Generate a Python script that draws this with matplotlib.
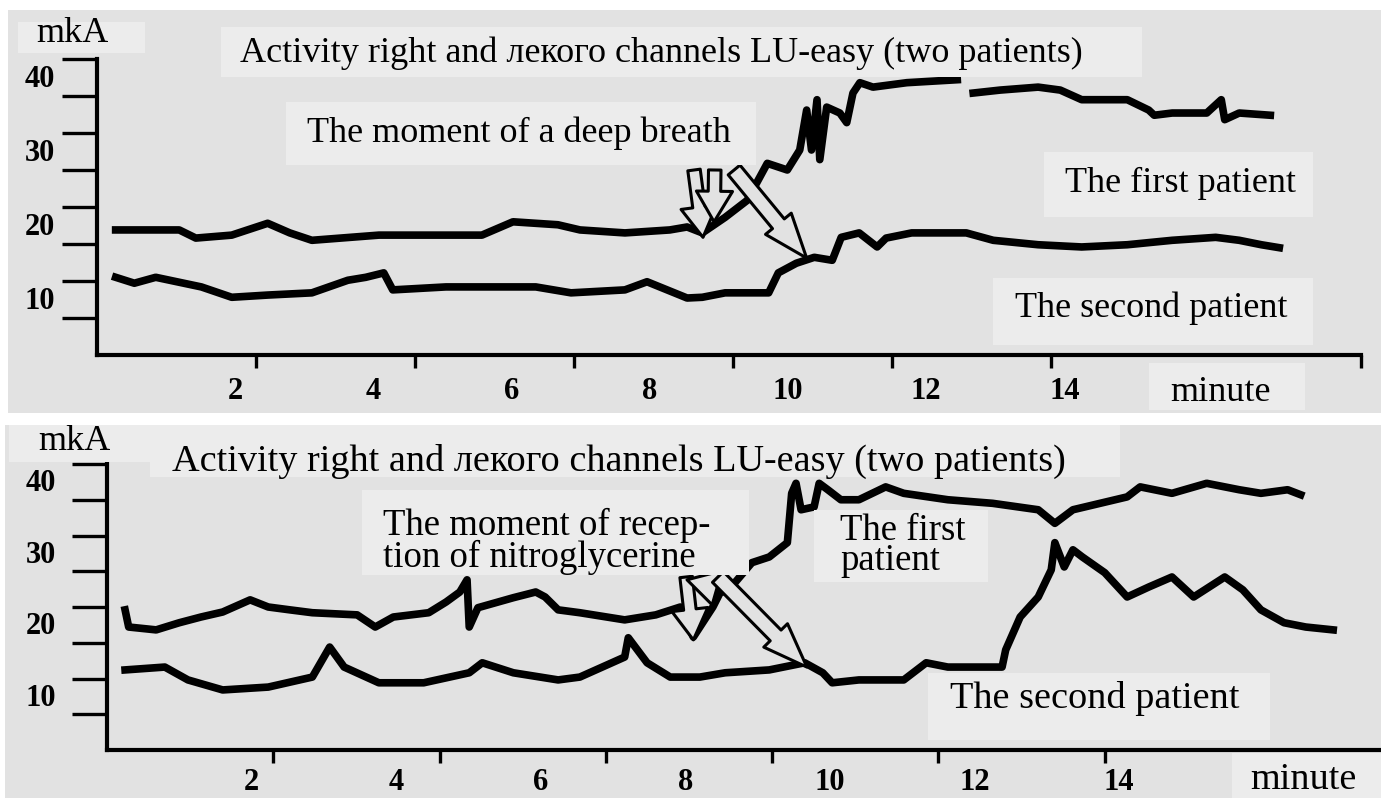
import matplotlib
matplotlib.use("Agg")
import matplotlib.pyplot as plt
import numpy as np
from matplotlib.patches import Rectangle

# ---- data (minutes, mkA); nan = break in the trace ----
nan = np.nan
top_t1 = [0.27, 1.19, 1.43, 1.95, 2.47, 2.79, 3.11, 4.08, 5.05, 5.57, 6.02, 6.67, 6.99,
          7.64, 8.29, 8.54, 8.76, 9.09, 9.41, 9.70, 9.99, 10.17, 10.27, 10.34, 10.42,
          10.46, 10.56, 10.75, 10.85, 10.94, 11.04, 11.23, 11.72, 12.45, 12.55, 12.68,
          13.07, 13.62, 13.94, 14.25, 14.91, 15.22, 15.30, 15.56, 16.06, 16.27, 16.32,
          16.53, 16.98]
top_p1 = [16.9, 16.9, 15.8, 16.2, 17.8, 16.5, 15.5, 16.2, 16.2, 16.2, 18.0, 17.6, 16.9,
          16.5, 16.9, 17.3, 16.5, 18.6, 20.9, 25.9, 25.0, 27.7, 33.1, 27.7, 34.5,
          26.4, 33.5, 32.7, 31.4, 35.4, 36.8, 36.2, 36.8, 37.2, nan, 35.4,
          35.8, 36.2, 35.8, 34.5, 34.5, 33.1, 32.4, 32.7, 32.7, 34.5, 31.8,
          32.7, 32.4]
top_t2 = [0.27, 0.54, 0.85, 1.51, 1.95, 2.47, 3.11, 3.63, 3.89, 4.15, 4.28, 5.05, 5.70,
          6.35, 6.86, 7.64, 7.96, 8.54, 8.76, 9.09, 9.72, 9.86, 10.12, 10.38, 10.64,
          10.77, 11.03, 11.29, 11.42, 11.79, 12.58, 12.97, 13.62, 14.25, 14.91, 15.56,
          16.19, 16.53, 16.85, 17.11]
top_p2 = [10.5, 9.7, 10.5, 9.2, 7.8, 8.1, 8.4, 10.1, 10.5, 11.1, 8.8, 9.2, 9.2,
          9.2, 8.4, 8.8, 9.9, 7.7, 7.8, 8.4, 8.4, 11.1, 12.4, 13.2, 12.8,
          15.9, 16.5, 14.6, 15.8, 16.5, 16.5, 15.5, 14.9, 14.6, 14.9, 15.5,
          15.9, 15.5, 14.9, 14.5]

bot_t1 = [0.25, 0.30, 0.68, 1.00, 1.30, 1.60, 1.98, 2.23, 2.53, 2.84, 3.46, 3.71, 3.96,
          4.45, 4.69, 4.88, 4.98, 5.01, 5.13, 5.62, 5.93, 6.06, 6.24, 6.54, 7.16, 7.59,
          7.93, 8.11, 8.38, 8.48, 8.60, 8.92, 9.16, 9.41, 9.47, 9.53, 9.60,
          9.78, 9.85, 9.97, 10.15, 10.40, 10.77, 11.02, 11.63, 12.25, 12.88, 13.11,
          13.36, 14.11, 14.29, 14.73, 15.21, 15.66, 15.96, 16.33, 16.51]
bot_p1 = [19.6, 17.2, 16.8, 17.8, 18.6, 19.3, 21.0, 20.0, 19.6, 19.2, 18.9, 17.2, 18.6,
          19.2, 20.7, 22.1, 23.8, 17.2, 19.9, 21.3, 22.1, 21.4, 19.6, 19.2, 18.2, 18.9,
          20.0, 15.8, 20.0, 22.0, 22.4, 26.2, 27.0, 29.0, 35.9, 37.3, 33.6,
          34.0, 37.3, 36.4, 35.0, 35.0, 36.8, 35.9, 35.0, 34.5, 33.6, 31.7,
          33.6, 35.4, 36.8, 35.9, 37.3, 36.4, 35.9, 36.4, 35.7]
bot_t2 = [0.25, 0.80, 1.12, 1.60, 2.23, 2.84, 3.08, 3.28, 3.76, 4.38, 5.01, 5.19, 5.62,
          6.24, 6.54, 7.16, 7.21, 7.47, 7.79, 8.20, 8.55, 9.16, 9.65, 9.90, 10.03, 10.40,
          11.02, 11.33, 11.63, 12.38, 12.43, 12.63, 12.88, 13.06, 13.11, 13.24, 13.36,
          13.49, 13.80, 14.11, 14.41, 14.73, 15.03, 15.46, 15.71, 15.96, 16.28, 16.58, 16.96]
bot_p2 = [11.2, 11.6, 9.8, 8.4, 8.8, 10.2, 14.4, 11.6, 9.4, 9.4, 10.8, 12.2, 10.8,
          9.8, 10.2, 13.0, 15.7, 12.2, 10.2, 10.2, 10.8, 11.2, 12.2, 10.8, 9.4, 9.8,
          9.8, 12.2, 11.6, 11.6, 14.0, 18.6, 21.4, 25.2, 29.0, 25.6, 28.0,
          27.0, 24.8, 21.4, 22.8, 24.2, 21.4, 24.2, 22.4, 19.6, 17.8, 17.2, 16.8]

# event arrows (minutes, mkA): tail -> tip
top_events = [((8.64, 25.0), (8.77, 15.9)), ((8.94, 25.0), (8.93, 18.0))]
top_diag = ((9.22, 25.0), (10.27, 13.1))
bot_events = [((8.01, 24.2), (8.11, 15.4)), ((8.27, 24.2), (8.37, 20.3))]
bot_diag = ((8.45, 24.2), (9.68, 11.6))

x_labels = [2, 4, 6, 8, 10, 12, 14]
y_labels = [10, 20, 30, 40]
title = "Activity right and лекого channels LU-easy (two patients)"

W, H = 1381, 798
PANEL = "#e2e2e2"
BOX = "#ececec"
SERIF = "Liberation Serif"


def fx(px):
    return px / W


def fy(py):
    return 1 - py / H


fig = plt.figure(figsize=(W / 100, H / 100), dpi=100, facecolor="white")


def box(x0, y0, x1, y1, color=BOX, z=2):
    r = Rectangle((fx(x0), fy(y1)), (x1 - x0) / W, (y1 - y0) / H,
                  transform=fig.transFigure, facecolor=color, edgecolor="none", zorder=z)
    fig.add_artist(r)
    return r


def label(px, py, s, size=26, **kw):
    fig.text(fx(px), fy(py), s, fontsize=size, family=SERIF, ha="left", va="center",
             zorder=3, **kw)


def panel(rect, x0, scale, t1, p1, t2, p2, events, diag, lbl_pad, x_pad):
    left, right, top, bottom = rect
    ax = fig.add_axes([fx(left), fy(bottom), (right - left) / W, (bottom - top) / H])
    ax.set_facecolor("none")
    ax.set_xlim(0, (right - x0) / scale)
    ax.set_ylim(0, 40)
    for s in ("top", "right"):
        ax.spines[s].set_visible(False)
    for s in ("left", "bottom"):
        ax.spines[s].set_linewidth(3)
    ax.plot(t1, p1, color="black", lw=5.5)
    ax.plot(t2, p2, color="black", lw=5.5)

    # long tick marks every 5 mkA, labels drawn a little below them as in the scan
    ax.set_yticks(np.arange(5, 45, 5))
    ax.set_yticklabels([])
    ax.tick_params(axis="y", which="major", length=25, width=2.4)
    ax.set_yticks([v - 2.3 for v in y_labels], labels=[str(v) for v in y_labels], minor=True)
    ax.tick_params(axis="y", which="minor", length=0, pad=lbl_pad)

    ax.set_xticks(x_labels, labels=[str(v) for v in x_labels])
    ax.tick_params(axis="x", which="major", length=0, pad=x_pad)
    ax.set_xticks(np.arange(2.3, 14, 2.3), minor=True)
    ax.tick_params(axis="x", which="minor", length=9, width=2.4)
    for t in ax.get_xticklabels() + ax.get_yticklabels(which="minor"):
        t.set_fontfamily(SERIF)
        t.set_fontweight("bold")
        t.set_fontsize(22)

    for tail, tip in events:
        ax.annotate("", xy=tip, xytext=tail,
                    arrowprops=dict(arrowstyle="simple,head_length=1.1,head_width=1.3,tail_width=0.45",
                                    mutation_scale=20, fc=PANEL, ec="black", lw=2.2,
                                    shrinkA=0, shrinkB=0))
    ax.annotate("", xy=diag[1], xytext=diag[0],
                arrowprops=dict(arrowstyle="simple,head_length=1.6,head_width=1.2,tail_width=0.55",
                                mutation_scale=20, fc=PANEL, ec="black", lw=2.2,
                                shrinkA=0, shrinkB=0))
    return ax


# panel backgrounds
box(8, 10, 1381, 413, PANEL, z=-1)
box(5, 425, 1381, 798, PANEL, z=-1)

ax1 = panel((97, 1361, 59, 355), 97, 69.1, top_t1, top_p1, top_t2, top_p2,
            top_events, top_diag, 30, 16)
ax1.set_xticks(list(np.arange(2.3, 14, 2.3)) + [ax1.get_xlim()[1]], minor=True)
ax2 = panel((107, 1381, 464, 750), 107, 72.3, bot_t1, bot_p1, bot_t2, bot_p2,
            bot_events, bot_diag, 37, 13)

# top panel texts
box(18, 22, 145, 53); label(36, 33, "mkA")
box(221, 27, 1142, 77); label(240, 53, title)
box(286, 102, 756, 165); label(307, 133, "The moment of a deep breath")
box(1044, 152, 1313, 217); label(1065, 183, "The first patient")
box(993, 278, 1313, 345); label(1015, 308, "The second patient")
box(1149, 363, 1305, 410); label(1170, 393, "minute")

# bottom panel texts
B = 27.5
box(9, 425, 150, 462); label(38, 441, "mkA", 26)
box(150, 425, 1120, 477); label(172, 461, title, B)
box(362, 490, 749, 575); label(383, 541, "The moment of recep-\ntion of nitroglycerine", 26.5,
                                linespacing=0.88)
box(814, 510, 988, 582); label(840, 546, "The first\npatient", 26.5, linespacing=0.82)
box(928, 673, 1270, 740); label(950, 699, "The second patient", B)
box(1232, 753, 1381, 798); label(1250, 780, "minute", B)

fig.savefig("out.png", dpi=100, facecolor="white")
